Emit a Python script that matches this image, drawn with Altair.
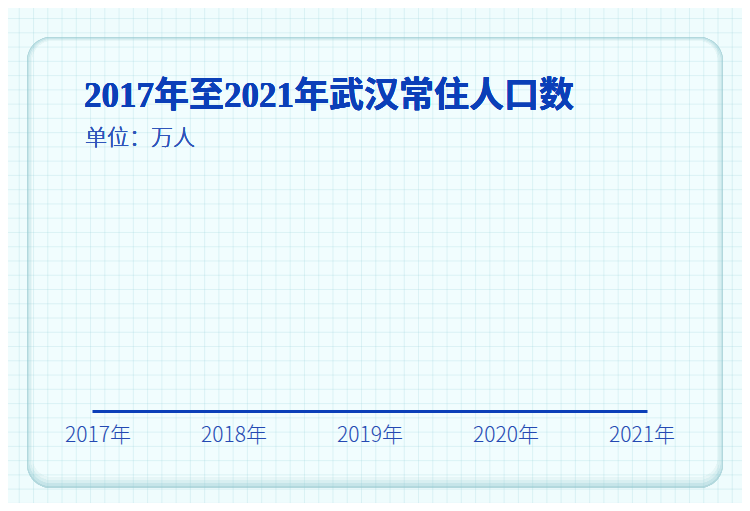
import pandas as pd
import altair as alt

# chart data
years = ["2017年", "2018年", "2019年", "2020年", "2021年"]
# bars have not grown yet in the picture: every bar sits at zero height
population = [0, 0, 0, 0, 0]

title_text = "2017年至2021年武汉常住人口数"
subtitle_text = "单位：万人"

BLUE = "#0b3fb8"
BG = "#effcfd"

df = pd.DataFrame({"year": years, "population": population})

# background grid (decoration), positions relative to the plot area
grid_v = (
    alt.Chart(alt.sequence(0, 53, as_="i"))
    .transform_calculate(gx="datum.i * 14.26 + 5 - 92")
    .mark_rule(color="#8fcdd4", opacity=0.22, strokeWidth=1)
    .encode(
        x=alt.X("gx:Q", scale=None, axis=None),
        y=alt.value(-142),
        y2=alt.value(353),
    )
)
grid_h = (
    alt.Chart(alt.sequence(0, 36, as_="i"))
    .transform_calculate(gy="datum.i * 14.26 + 4.3 - 150")
    .mark_rule(color="#8fcdd4", opacity=0.22, strokeWidth=1)
    .encode(
        y=alt.Y("gy:Q", scale=None, axis=None),
        x=alt.value(-84),
        x2=alt.value(650),
    )
)


def card_rect(x, x2, y, y2, fill, r):
    return alt.Chart(df).mark_rect(fill=fill, cornerRadius=r).encode(
        x=alt.value(x), x2=alt.value(x2), y=alt.value(y), y2=alt.value(y2)
    )


# rounded card with a soft inner bevel
card = alt.layer(
    card_rect(-65, 631, -113, 338, "#b2d8dd", 24),
    card_rect(-64, 630, -112, 336, "#c6e5e9", 23),
    card_rect(-62.5, 628.5, -111, 333, "#d8eff1", 22),
    card_rect(-61, 627, -110, 330, "#e6f6f7", 21),
    card_rect(-59.5, 625.5, -109, 327, "#f1fdfe", 20),
)

title = alt.Chart(df).mark_text(
    text=title_text, align="left", baseline="alphabetic",
    font="'Liberation Serif', 'Noto Sans CJK SC'", fontSize=35,
    fontWeight="bold", color=BLUE,
).encode(x=alt.value(-8), y=alt.value(-43))

subtitle = alt.Chart(df).mark_text(
    text=subtitle_text, align="left", baseline="alphabetic",
    font="Noto Sans CJK SC", fontSize=22, fontWeight=300, color="#2f55ba",
).encode(x=alt.value(-7), y=alt.value(-5))

bars = alt.Chart(df).mark_bar(color=BLUE, size=60).encode(
    x=alt.X(
        "year:N", sort=years, title=None,
        scale=alt.Scale(type="point", padding=0.04),
        axis=alt.Axis(
            orient="bottom", domainColor=BLUE, domainWidth=3, ticks=False,
            labelPadding=13, labelFontSize=21, labelColor="#2449b2",
            labelFont="Noto Sans CJK SC", labelFontWeight=300, labelAngle=0,
            grid=False, zindex=1,
        ),
    ),
    y=alt.Y("population:Q", scale=alt.Scale(domain=[0, 1400]), axis=None),
)

chart = (
    alt.layer(card, grid_v, grid_h, title, subtitle, bars)
    .resolve_scale(x="independent", y="independent")
    .properties(
        width=555, height=261,
        autosize=alt.AutoSizeParams(type="none"),
        padding={"left": 84, "top": 142, "right": 95, "bottom": 92},
        background=BG,
    )
    .configure_view(strokeWidth=0)
)

chart.save("out.html", embed_options={"renderer": "svg", "actions": False})
